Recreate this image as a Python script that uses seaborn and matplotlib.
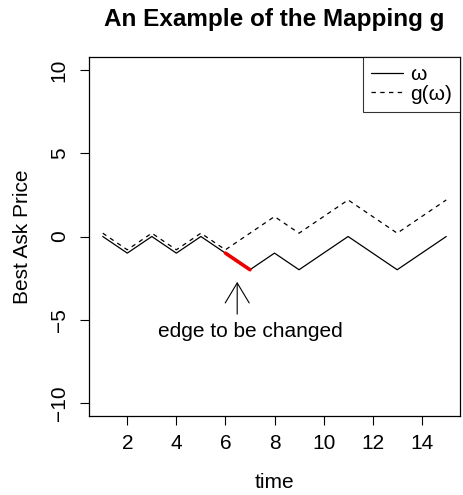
import matplotlib
matplotlib.use("Agg")
import matplotlib.pyplot as plt
import seaborn as sns
import pandas as pd
import numpy as np

# data
time = list(range(1, 16))
omega = [0, -1, 0, -1, 0, -1, -2, -1, -2, -1, 0, -1, -2, -1, 0]
g_omega = [0.2, -0.8, 0.2, -0.8, 0.2, -0.8, 0.2, 1.2, 0.2, 1.2, 2.2, 1.2, 0.2, 1.2, 2.2]
edge_times = [6, 7]
xticks = [2, 4, 6, 8, 10, 12, 14]
yticks = [-10, -5, 0, 5, 10]

sns.set_style("white")
plt.rcParams['font.family'] = ['Liberation Sans', 'DejaVu Sans']
plt.rcParams['text.color'] = 'black'
plt.rcParams['axes.labelcolor'] = 'black'
plt.rcParams['xtick.color'] = 'black'
plt.rcParams['ytick.color'] = 'black'

FS = 15

df = pd.DataFrame({"time": time, "omega": omega, "g": g_omega})
edge = df[df["time"].isin(edge_times)]

fig = plt.figure(figsize=(4.63, 4.95), dpi=100)
ax = fig.add_axes([89/463, 1-416/495, (460-89)/463, (416-57)/495])

sns.lineplot(data=df, x="time", y="omega", ax=ax, color="black", lw=0.9, label="ω")
sns.lineplot(data=df, x="time", y="g", ax=ax, color="black", lw=0.9, label="g(ω)",
             linestyle=(0, (3.5, 3.5)))
sns.lineplot(data=edge, x="time", y="omega", ax=ax, color="#ee0000", lw=2.6, legend=False)

ax.set_xlim(0.44, 15.56)
ax.set_ylim(-10.8, 10.8)
ax.set_xticks(xticks)
ax.set_yticks(yticks)
ax.set_yticklabels([str(v).replace('-', '\u2212') for v in yticks], rotation=90, va='center')
ax.set_xticklabels([str(v) for v in xticks])
ax.tick_params(axis='both', direction='out', length=6.5, width=0.8, labelsize=FS,
               color='black', labelcolor='black', pad=6.5, left=True, bottom=True)
ax.tick_params(axis='y', pad=8)
for s in ax.spines.values():
    s.set_color('black')
    s.set_linewidth(0.9)

ax.set_xlabel("time", fontsize=FS, labelpad=14, color='black')
ax.set_ylabel("Best Ask Price", fontsize=FS, labelpad=13, color='black')
ax.set_title("An Example of the Mapping g", fontsize=17.5, fontweight='bold', pad=22,
             color='black')

ax.annotate("", xy=(6.48, -2.73), xytext=(6.48, -4.67),
            arrowprops=dict(arrowstyle="->,head_length=0.4,head_width=0.24",
                            mutation_scale=36, color='black', lw=0.8,
                            shrinkA=0, shrinkB=0))
ax.text(7.0, -5.7, "edge to be changed", ha='center', va='center', fontsize=FS,
        color='black')

leg = ax.legend(loc='upper right', fontsize=FS, frameon=True, fancybox=False,
                borderaxespad=0, handlelength=1.5, labelspacing=0.02,
                borderpad=0.4, handletextpad=0.35)
leg.get_frame().set_edgecolor('black')
leg.get_frame().set_linewidth(0.8)
for t in leg.get_texts():
    t.set_color('black')

fig.savefig("out.png", dpi=100)
